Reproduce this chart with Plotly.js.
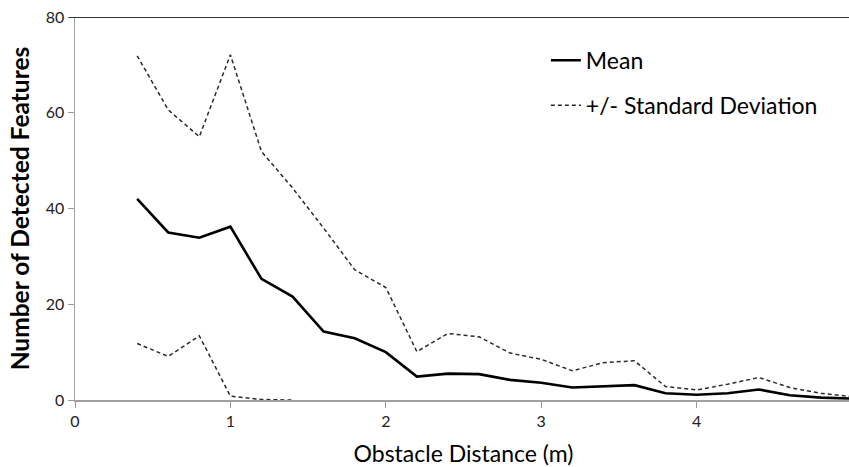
<!DOCTYPE html>
<html>
<head>
<meta charset="utf-8">
<script src="https://cdn.plot.ly/plotly-3.0.1.min.js"></script>
<style>
html, body { margin: 0; padding: 0; overflow: hidden; background: #fff; }
#chart { width: 855px; height: 467px; }
</style>
</head>
<body>
<div id="chart"></div>
<script>
const distance = [0.4, 0.6, 0.8, 1.0, 1.2, 1.4, 1.6, 1.8, 2.0, 2.2, 2.4, 2.6, 2.8, 3.0, 3.2, 3.4, 3.6, 3.8, 4.0, 4.2, 4.4, 4.6, 4.8, 5.0];
const meanValues = [42.0, 35.0, 33.9, 36.2, 25.3, 21.6, 14.3, 12.9, 10.0, 4.9, 5.5, 5.4, 4.2, 3.6, 2.6, 2.8, 3.1, 1.4, 1.1, 1.4, 2.2, 1.0, 0.5, 0.3];
const upperSD = [71.9, 60.6, 55.0, 72.1, 51.9, 44.3, 35.9, 27.2, 23.5, 10.1, 13.9, 13.2, 9.8, 8.5, 6.1, 7.8, 8.2, 2.8, 2.1, 3.3, 4.7, 2.6, 1.4, 0.7];
const lowerSD = [11.8, 9.1, 13.4, 0.8, 0.1, -0.02, null, null, null, null, null, null, null, null, null, null, null, null, null, null, null, null, null, null];
const seriesNames = ["Mean", "+/- Standard Deviation"];
const xTickValues = [0, 1, 2, 3, 4, 5];
const yTickValues = [0, 20, 40, 60, 80];

const font = "Lato, 'Open Sans', sans-serif";

const traces = [
  {
    x: distance, y: meanValues, type: "scatter", mode: "lines",
    name: seriesNames[0], legendgroup: "m",
    line: { color: "#000000", width: 2.6 }
  },
  {
    x: distance, y: upperSD, type: "scatter", mode: "lines",
    name: seriesNames[1], legendgroup: "sd",
    line: { color: "#2a2a2a", width: 1.5, dash: "4px,3px" }
  },
  {
    x: distance, y: lowerSD, type: "scatter", mode: "lines",
    name: seriesNames[1], legendgroup: "sd", showlegend: false,
    connectgaps: false,
    line: { color: "#2a2a2a", width: 1.5, dash: "4px,3px" }
  }
];

const layout = {
  width: 855, height: 467,
  margin: { l: 75, r: 3, t: 17, b: 67 },
  paper_bgcolor: "#ffffff", plot_bgcolor: "#ffffff",
  font: { family: font, color: "#222222", size: 15 },
  showlegend: true,
  legend: {
    x: 0.606, y: 0.943, xanchor: "left", yanchor: "top",
    font: { family: font, size: 23, color: "#000000" },
    traceorder: "grouped", tracegroupgap: 12,
    bgcolor: "rgba(0,0,0,0)"
  },
  xaxis: {
    range: [0, 5],
    tickvals: xTickValues,
    ticks: "outside", ticklen: 6, tickcolor: "#999999", tickwidth: 1,
    showline: true, linecolor: "#a0a0a0", linewidth: 2,
    showgrid: false, zeroline: false,
    tickfont: { family: font, size: 16, color: "#222222" },
    title: { text: "Obstacle Distance (m)", font: { family: font, size: 23, color: "#000000" }, standoff: 21 },
    fixedrange: true
  },
  yaxis: {
    range: [0, 80],
    tickvals: yTickValues,
    ticks: "outside", ticklen: 6, tickcolor: "#999999", tickwidth: 1,
    showline: true, linecolor: "#a0a0a0", linewidth: 1.5,
    showgrid: false, zeroline: false,
    tickfont: { family: font, size: 16, color: "#222222" },
    title: { text: "<b>Number of Detected Features</b>", font: { family: font, size: 24.5, color: "#000000" }, standoff: 9 },
    fixedrange: true
  },
  shapes: [
    { type: "line", xref: "paper", yref: "y", x0: -0.008, x1: 1, y0: 80, y1: 80,
      line: { color: "#333333", width: 2 } }
  ]
};

Plotly.newPlot("chart", traces, layout, { displayModeBar: false, staticPlot: true });
</script>
</body>
</html>
